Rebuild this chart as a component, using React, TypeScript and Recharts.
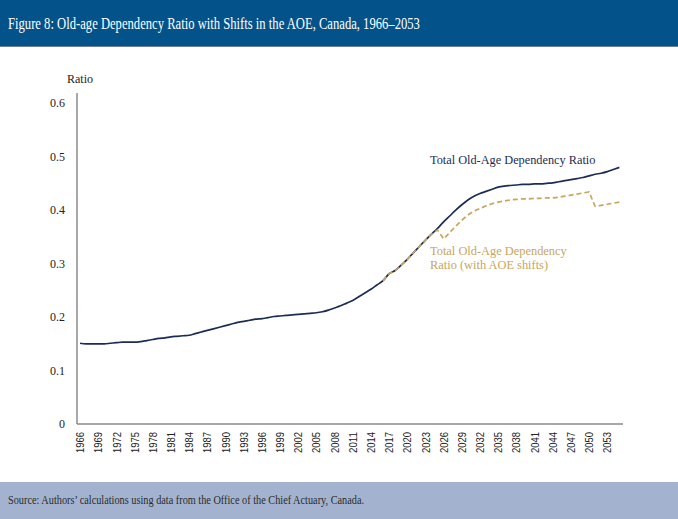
import { LineChart, Line, XAxis, YAxis } from 'recharts'

// years 1966-2055, annual
const years = [
  1966, 1967, 1968, 1969, 1970, 1971, 1972, 1973, 1974, 1975,
  1976, 1977, 1978, 1979, 1980, 1981, 1982, 1983, 1984, 1985,
  1986, 1987, 1988, 1989, 1990, 1991, 1992, 1993, 1994, 1995,
  1996, 1997, 1998, 1999, 2000, 2001, 2002, 2003, 2004, 2005,
  2006, 2007, 2008, 2009, 2010, 2011, 2012, 2013, 2014, 2015,
  2016, 2017, 2018, 2019, 2020, 2021, 2022, 2023, 2024, 2025,
  2026, 2027, 2028, 2029, 2030, 2031, 2032, 2033, 2034, 2035,
  2036, 2037, 2038, 2039, 2040, 2041, 2042, 2043, 2044, 2045,
  2046, 2047, 2048, 2049, 2050, 2051, 2052, 2053, 2054, 2055,
]

const totalRatio = [
  0.151, 0.150, 0.150, 0.150, 0.150, 0.151, 0.152, 0.153, 0.153, 0.153,
  0.154, 0.156, 0.158, 0.160, 0.161, 0.163, 0.164, 0.165, 0.166, 0.169,
  0.172, 0.175, 0.178, 0.181, 0.184, 0.187, 0.190, 0.192, 0.194, 0.196,
  0.197, 0.199, 0.201, 0.202, 0.203, 0.204, 0.205, 0.206, 0.207, 0.208,
  0.210, 0.213, 0.217, 0.221, 0.226, 0.231, 0.238, 0.245, 0.252, 0.260,
  0.268, 0.281, 0.287, 0.297, 0.308, 0.320, 0.332, 0.344, 0.355, 0.366,
  0.378, 0.389, 0.400, 0.410, 0.419, 0.426, 0.431, 0.435, 0.439, 0.443,
  0.445, 0.446, 0.447, 0.448, 0.448, 0.449, 0.449, 0.450, 0.451, 0.453,
  0.455, 0.457, 0.459, 0.461, 0.464, 0.467, 0.469, 0.472, 0.476, 0.480,
]

// AOE-shift series only from 2016 on
const aoeRatio = [
  null, null, null, null, null, null, null, null, null, null,
  null, null, null, null, null, null, null, null, null, null,
  null, null, null, null, null, null, null, null, null, null,
  null, null, null, null, null, null, null, null, null, null,
  null, null, null, null, null, null, null, null, null, null,
  0.268, 0.281, 0.287, 0.297, 0.308, 0.320, 0.332, 0.344, 0.355, 0.363,
  0.346, 0.358, 0.370, 0.381, 0.391, 0.398, 0.403, 0.408, 0.412, 0.415,
  0.417, 0.419, 0.420, 0.421, 0.421, 0.422, 0.422, 0.423, 0.423, 0.424,
  0.426, 0.428, 0.430, 0.432, 0.434, 0.407, 0.409, 0.411, 0.413, 0.415,
]

const xTicks = [
  1966, 1969, 1972, 1975, 1978, 1981, 1984, 1987, 1990, 1993,
  1996, 1999, 2002, 2005, 2008, 2011, 2014, 2017, 2020, 2023,
  2026, 2029, 2032, 2035, 2038, 2041, 2044, 2047, 2050, 2053,
]
const yTicks = [0, 0.1, 0.2, 0.3, 0.4, 0.5, 0.6]

const data = years.map((year, i) => ({
  year,
  total: totalRatio[i],
  aoe: aoeRatio[i],
}))

const NAVY = '#1c2c55'
const GOLD = '#c6a660'
const SERIF = '"Liberation Serif", "Times New Roman", serif'

function YearTick({ x, y, payload }: any) {
  return (
    <text
      x={x}
      y={y}
      transform={`rotate(-90, ${x}, ${y})`}
      textAnchor="end"
      dy="0.36em"
      fontSize={11.5}
      fontFamily='"Liberation Sans", Arial, sans-serif'
      fill="#222"
      textLength={21}
      lengthAdjust="spacingAndGlyphs"
    >
      {payload.value}
    </text>
  )
}

export default function App() {
  return (
    <div
      style={{
        position: 'absolute',
        top: 0,
        left: 0,
        width: 678,
        height: 519,
        background: '#fff',
        fontFamily: SERIF,
        overflow: 'hidden',
      }}
    >
      <div
        style={{
          position: 'absolute',
          top: 0,
          left: 0,
          width: 678,
          height: 47,
          background: '#03538a',
          borderBottom: '1px solid #6f7f92',
          color: '#fff',
          fontSize: 16.5,
          lineHeight: '47px',
          paddingLeft: 8,
          boxSizing: 'border-box',
          whiteSpace: 'nowrap',
        }}
      >
        <span style={{ display: 'inline-block', transform: 'scaleX(0.765)', transformOrigin: 'left center' }}>
          Figure 8: Old-age Dependency Ratio with Shifts in the AOE, Canada, 1966–2053
        </span>
      </div>

      <div style={{ position: 'absolute', top: 0, left: 0 }}>
        <LineChart
          width={678}
          height={482}
          data={data}
          margin={{ top: 93, right: 55, bottom: 8, left: 37 }}
        >
          <XAxis
            dataKey="year"
            type="number"
            domain={[1965.5, 2055.6]}
            ticks={xTicks}
            interval={0}
            tickLine={false}
            axisLine={{ stroke: '#8a8a8a', strokeWidth: 1.5 }}
            tick={<YearTick />}
            height={50}
          />
          <YAxis
            type="number"
            domain={[0, 0.619]}
            ticks={yTicks}
            interval={0}
            tickLine={false}
            tickMargin={6}
            axisLine={{ stroke: '#8a8a8a', strokeWidth: 1.5 }}
            tickFormatter={(v: number) => (v === 0 ? '0' : v.toFixed(1))}
            tick={{ fontSize: 12, fontFamily: SERIF, fill: '#222' }}
            width={40}
          />
          <Line
            type="monotone"
            dataKey="total"
            stroke={NAVY}
            strokeWidth={1.7}
            dot={false}
            isAnimationActive={false}
          />
          <Line
            type="linear"
            dataKey="aoe"
            stroke={GOLD}
            strokeWidth={1.7}
            strokeDasharray="5 3"
            dot={false}
            connectNulls={false}
            isAnimationActive={false}
          />
        </LineChart>
      </div>

      <div style={{ position: 'absolute', left: 67, top: 72, fontSize: 12, color: '#222' }}>
        Ratio
      </div>
      <div
        style={{ position: 'absolute', left: 430, top: 153, fontSize: 12.3, color: NAVY, whiteSpace: 'nowrap' }}
      >
        Total Old-Age Dependency Ratio
      </div>
      <div
        style={{
          position: 'absolute',
          left: 430,
          top: 244,
          fontSize: 12.4,
          lineHeight: '14px',
          color: GOLD,
          whiteSpace: 'nowrap',
        }}
      >
        Total Old-Age Dependency
        <br />
        Ratio (with AOE shifts)
      </div>

      <div
        style={{
          position: 'absolute',
          top: 482,
          left: 0,
          width: 678,
          height: 37,
          background: '#a3b3cf',
          color: '#2b2b2b',
          fontSize: 13,
          lineHeight: '35px',
          paddingLeft: 8,
          boxSizing: 'border-box',
          whiteSpace: 'nowrap',
        }}
      >
        <span style={{ display: 'inline-block', transform: 'scaleX(0.79)', transformOrigin: 'left center' }}>
          Source: Authors’ calculations using data from the Office of the Chief Actuary, Canada.
        </span>
      </div>
    </div>
  )
}
